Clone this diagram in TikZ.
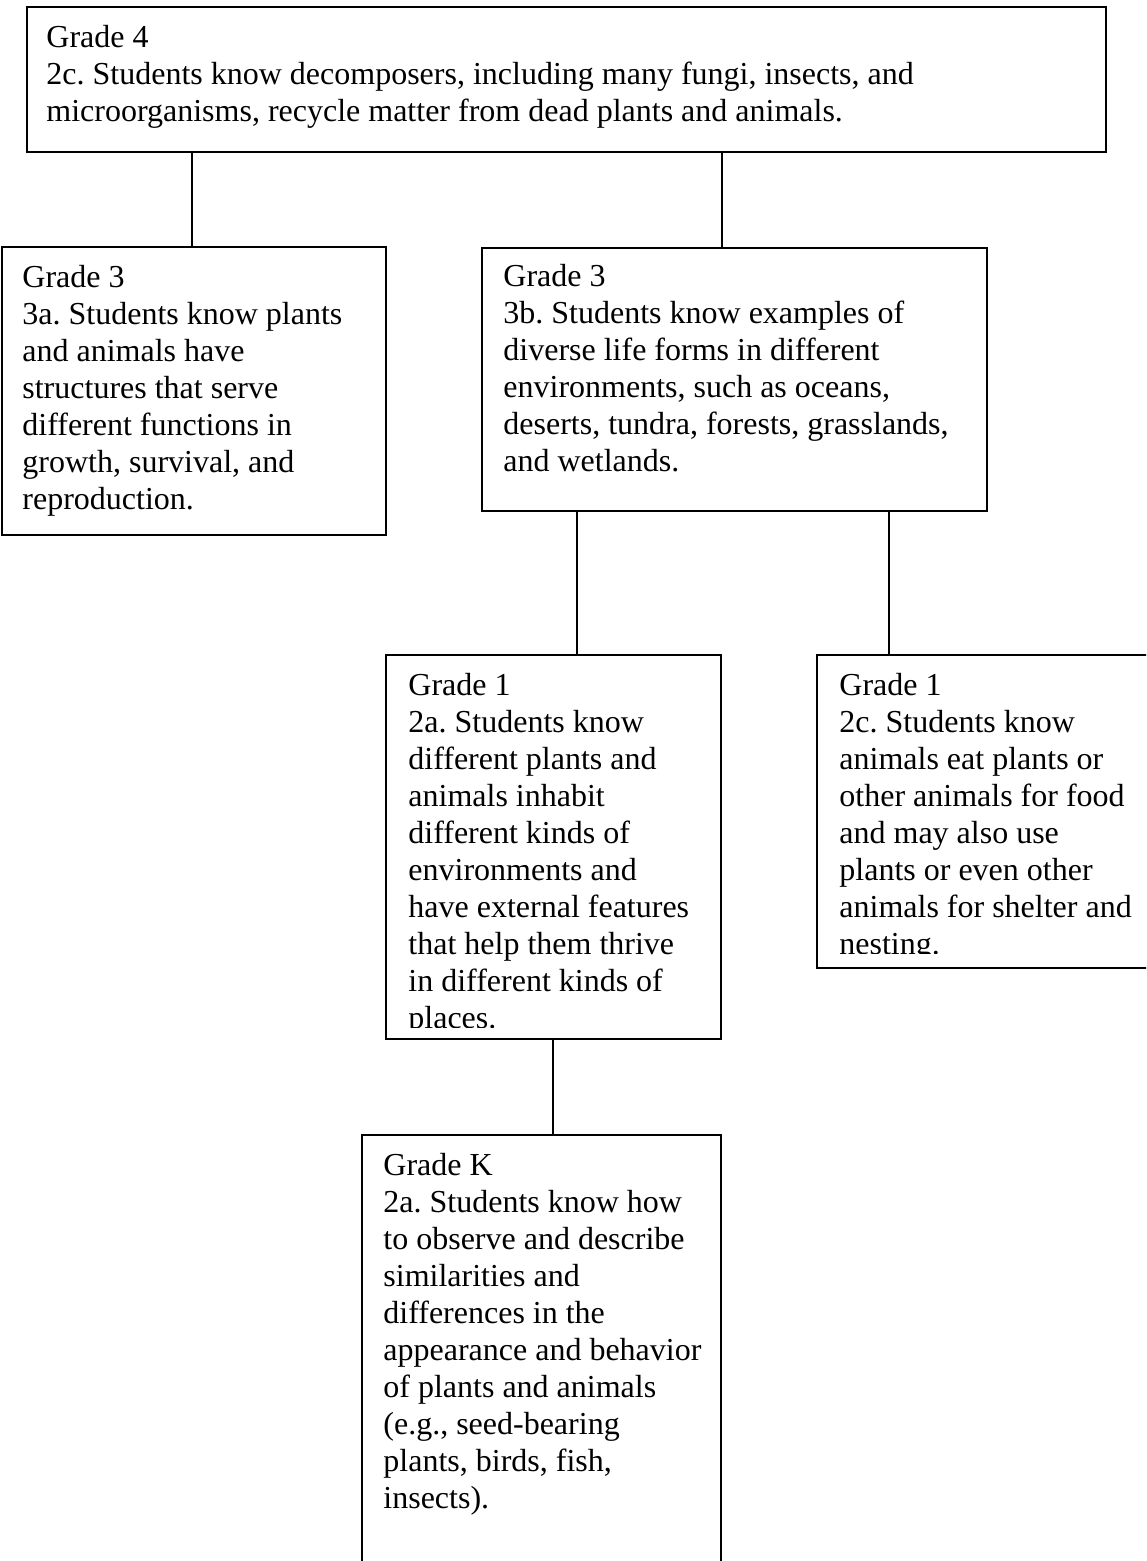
\documentclass[tikz,border=0pt]{standalone}
\usepackage{fontspec}
\setmainfont{Liberation Serif}
\usetikzlibrary{fit}
\frenchspacing
\newcommand{\boxtext}[1]{\parbox[t]{600pt}{\raggedright\frenchspacing #1}}
\tikzset{
  stdbox/.style={draw=black, line width=0.7pt, fill=none, inner sep=0pt, rectangle},
  txt/.style={anchor=base west, inner sep=0pt, font=\fontsize{16pt}{18.5pt}\selectfont},
  conn/.style={draw=black, line width=0.55pt}
}
\begin{document}
\begin{tikzpicture}[x=0.5pt,y=-0.5pt]
\useasboundingbox (0,0) rectangle (1146,1561);
\fill[white] (0,0) rectangle (1146,1561);
\begin{scope}
\clip (0,0) rectangle (1146,1561);
% boxes
\node[stdbox, fit={(27,7) (1106,152)}] (g4) {};
\node[stdbox, fit={(2,247) (386,535)}] (g3a) {};
\node[stdbox, fit={(482,248) (987,511)}] (g3b) {};
\node[stdbox, fit={(386,655) (721,1039)}] (g1a) {};
\node[stdbox, fit={(817,655) (1170,968)}] (g1c) {};
\node[stdbox, fit={(362,1135) (721,1620)}] (gk) {};
% connectors
\coordinate (c1) at (192,0);
\coordinate (c2) at (722,0);
\coordinate (c3) at (577,0);
\coordinate (c4) at (889,0);
\coordinate (c5) at (553,0);
\draw[conn] (g4.south -| c1) -- (g3a.north -| c1);
\draw[conn] (g4.south -| c2) -- (g3b.north -| c2);
\draw[conn] (g3b.south -| c3) -- (g1a.north -| c3);
\draw[conn] (g3b.south -| c4) -- (g1c.north -| c4);
\draw[conn] (g1a.south -| c5) -- (gk.north -| c5);
% texts
\node[txt] (t4) at (46,48) {\boxtext{Grade 4\\2c. Students know decomposers, including many fungi, insects, and\\microorganisms, recycle matter from dead plants and animals.}};
\node[txt] (t3a) at (22,288) {\boxtext{Grade 3\\3a. Students know plants\\and animals have\\structures that serve\\different functions in\\growth, survival, and\\reproduction.}};
\node[txt] (t3b) at (503,287) {\boxtext{Grade 3\\3b. Students know examples of\\diverse life forms in different\\environments, such as oceans,\\deserts, tundra, forests, grasslands,\\and wetlands.}};
\begin{scope}
\clip (386,655) rectangle (721,1027);
\node[txt] (t1a) at (408,695) {\boxtext{Grade 1\\2a. Students know\\different plants and\\animals inhabit\\different kinds of\\environments and\\have external features\\that help them thrive\\in different kinds of\\places.}};
\end{scope}
\begin{scope}
\clip (817,655) rectangle (1146,953);
\node[txt] (t1c) at (839,695) {\boxtext{Grade 1\\2c. Students know\\animals eat plants or\\other animals for food\\and may also use\\plants or even other\\animals for shelter and\\nesting.}};
\end{scope}
\node[txt] (tk) at (383,1175) {\boxtext{Grade K\\2a. Students know how\\to observe and describe\\similarities and\\differences in the\\appearance and behavior\\of plants and animals\\(e.g., seed-bearing\\plants, birds, fish,\\insects).}};
\end{scope}
\end{tikzpicture}
\end{document}
